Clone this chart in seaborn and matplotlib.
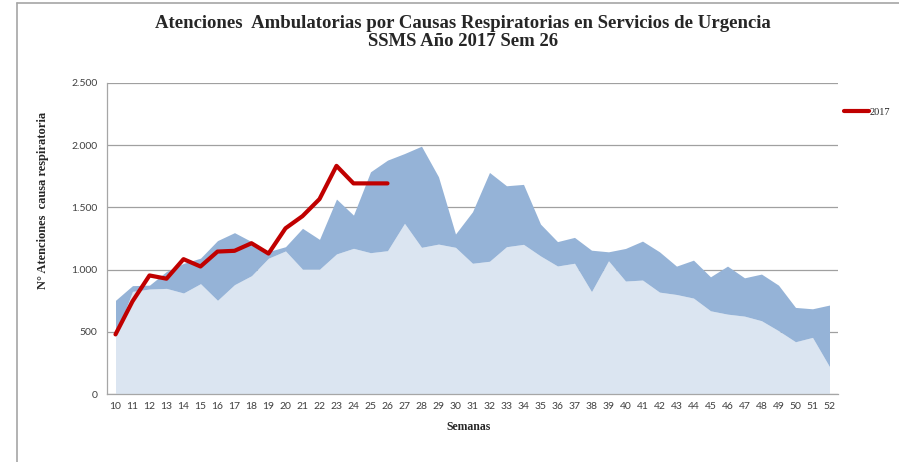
import matplotlib
matplotlib.use("Agg")
import matplotlib.pyplot as plt
import seaborn as sns
import pandas as pd
from matplotlib.lines import Line2D
from matplotlib.ticker import FuncFormatter

# semanas epidemiologicas
semanas = [10, 11, 12, 13, 14, 15, 16, 17, 18, 19, 20, 21, 22, 23, 24, 25, 26, 27, 28, 29, 30,
           31, 32, 33, 34, 35, 36, 37, 38, 39, 40, 41, 42, 43, 44, 45, 46, 47, 48, 49, 50, 51, 52]

# banda historica: limite inferior (area clara) y superior (area oscura)
limite_inf = [470, 825, 844, 849, 812, 887, 753, 879, 951, 1092, 1150, 1003, 1003, 1126, 1171,
              1136, 1152, 1372, 1179, 1205, 1179, 1051, 1067, 1184, 1203, 1110, 1029, 1051, 823,
              1071, 908, 916, 819, 800, 771, 669, 642, 626, 589, 509, 420, 455, 220]
limite_sup = [753, 871, 875, 985, 1050, 1092, 1233, 1297, 1225, 1145, 1184, 1332, 1243, 1567, 1438,
              1786, 1880, 1933, 1992, 1746, 1286, 1465, 1781, 1674, 1685, 1366, 1225, 1259, 1156,
              1143, 1170, 1229, 1143, 1028, 1076, 942, 1028, 934, 964, 875, 696, 685, 715]

# casos 2017 (hasta semana 26)
semanas_2017 = [10, 11, 12, 13, 14, 15, 16, 17, 18, 19, 20, 21, 22, 23, 24, 25, 26]
casos_2017 = [479, 745, 953, 927, 1084, 1025, 1145, 1151, 1212, 1129, 1332, 1430, 1567, 1834,
              1693, 1693, 1693]

y_ticks = [0, 500, 1000, 1500, 2000, 2500]

sns.set_style("white")
plt.rcParams['font.family'] = ['Lato', 'DejaVu Sans']

fig = plt.figure(figsize=(8.99, 4.62), dpi=100)
ax = fig.add_axes([107 / 899, 1 - 394 / 462, 731 / 899, 311 / 462])

ax.fill_between(semanas, 0, limite_inf, color='#DBE5F1', lw=0, zorder=2)
ax.fill_between(semanas, limite_inf, limite_sup, color='#95B3D7', lw=0, zorder=2)

df_2017 = pd.DataFrame({'semana': semanas_2017, 'casos': casos_2017})
sns.lineplot(data=df_2017, x='semana', y='casos', color='#C00000', lw=3,
             label='2017', ax=ax, zorder=3)

ax.set_xlim(9.5, 52.5)
ax.set_ylim(0, 2500)
ax.set_xticks(semanas)
ax.set_yticks(y_ticks)
ax.yaxis.set_major_formatter(FuncFormatter(lambda v, p: f"{int(v):,}".replace(",", ".")))
ax.tick_params(axis='both', labelsize=7.5, colors='#404040')
ax.tick_params(axis='x', length=0, pad=6)
ax.tick_params(axis='y', length=3, width=0.8, color='#A6A6A6', pad=4)
ax.yaxis.grid(True, color='#A0A0A0', lw=0.9)
ax.set_axisbelow(True)

for s in ['top', 'right']:
    ax.spines[s].set_visible(False)
for s in ['left', 'bottom']:
    ax.spines[s].set_color('#A6A6A6')
    ax.spines[s].set_linewidth(0.9)

ax.set_xlabel('')
ax.set_ylabel('')

serif = ['Liberation Serif', 'DejaVu Serif']
fig.text(463 / 899, 1 - 23 / 462, 'Atenciones  Ambulatorias por Causas Respiratorias en Servicios de Urgencia',
         ha='center', va='center', fontsize=13.5, fontweight='bold', family=serif)
fig.text(463 / 899, 1 - 42 / 462, 'SSMS Año 2017 Sem 26',
         ha='center', va='center', fontsize=13.5, fontweight='bold', family=serif)
fig.text(43 / 899, 1 - 200 / 462, 'N° Atenciones  causa respiratoria', rotation=90,
         ha='center', va='center', fontsize=9, fontweight='bold', family=serif)
fig.text(469 / 899, 1 - 427 / 462, 'Semanas',
         ha='center', va='center', fontsize=8.5, fontweight='bold', family=serif)

ax.legend(loc='center left', bbox_to_anchor=(844 / 899, 1 - 112 / 462),
          bbox_transform=fig.transFigure, frameon=False, handlelength=2.4,
          handletextpad=0.1, borderpad=0, borderaxespad=0,
          prop={'family': serif, 'size': 7.5})

# marco del grafico
fig.add_artist(Line2D([17 / 899, 1], [1 - 3 / 462, 1 - 3 / 462], color='#A6A6A6', lw=1.2))
fig.add_artist(Line2D([17 / 899, 17 / 899], [0, 1 - 3 / 462], color='#A6A6A6', lw=1.2))

fig.savefig('out.png', dpi=100)
